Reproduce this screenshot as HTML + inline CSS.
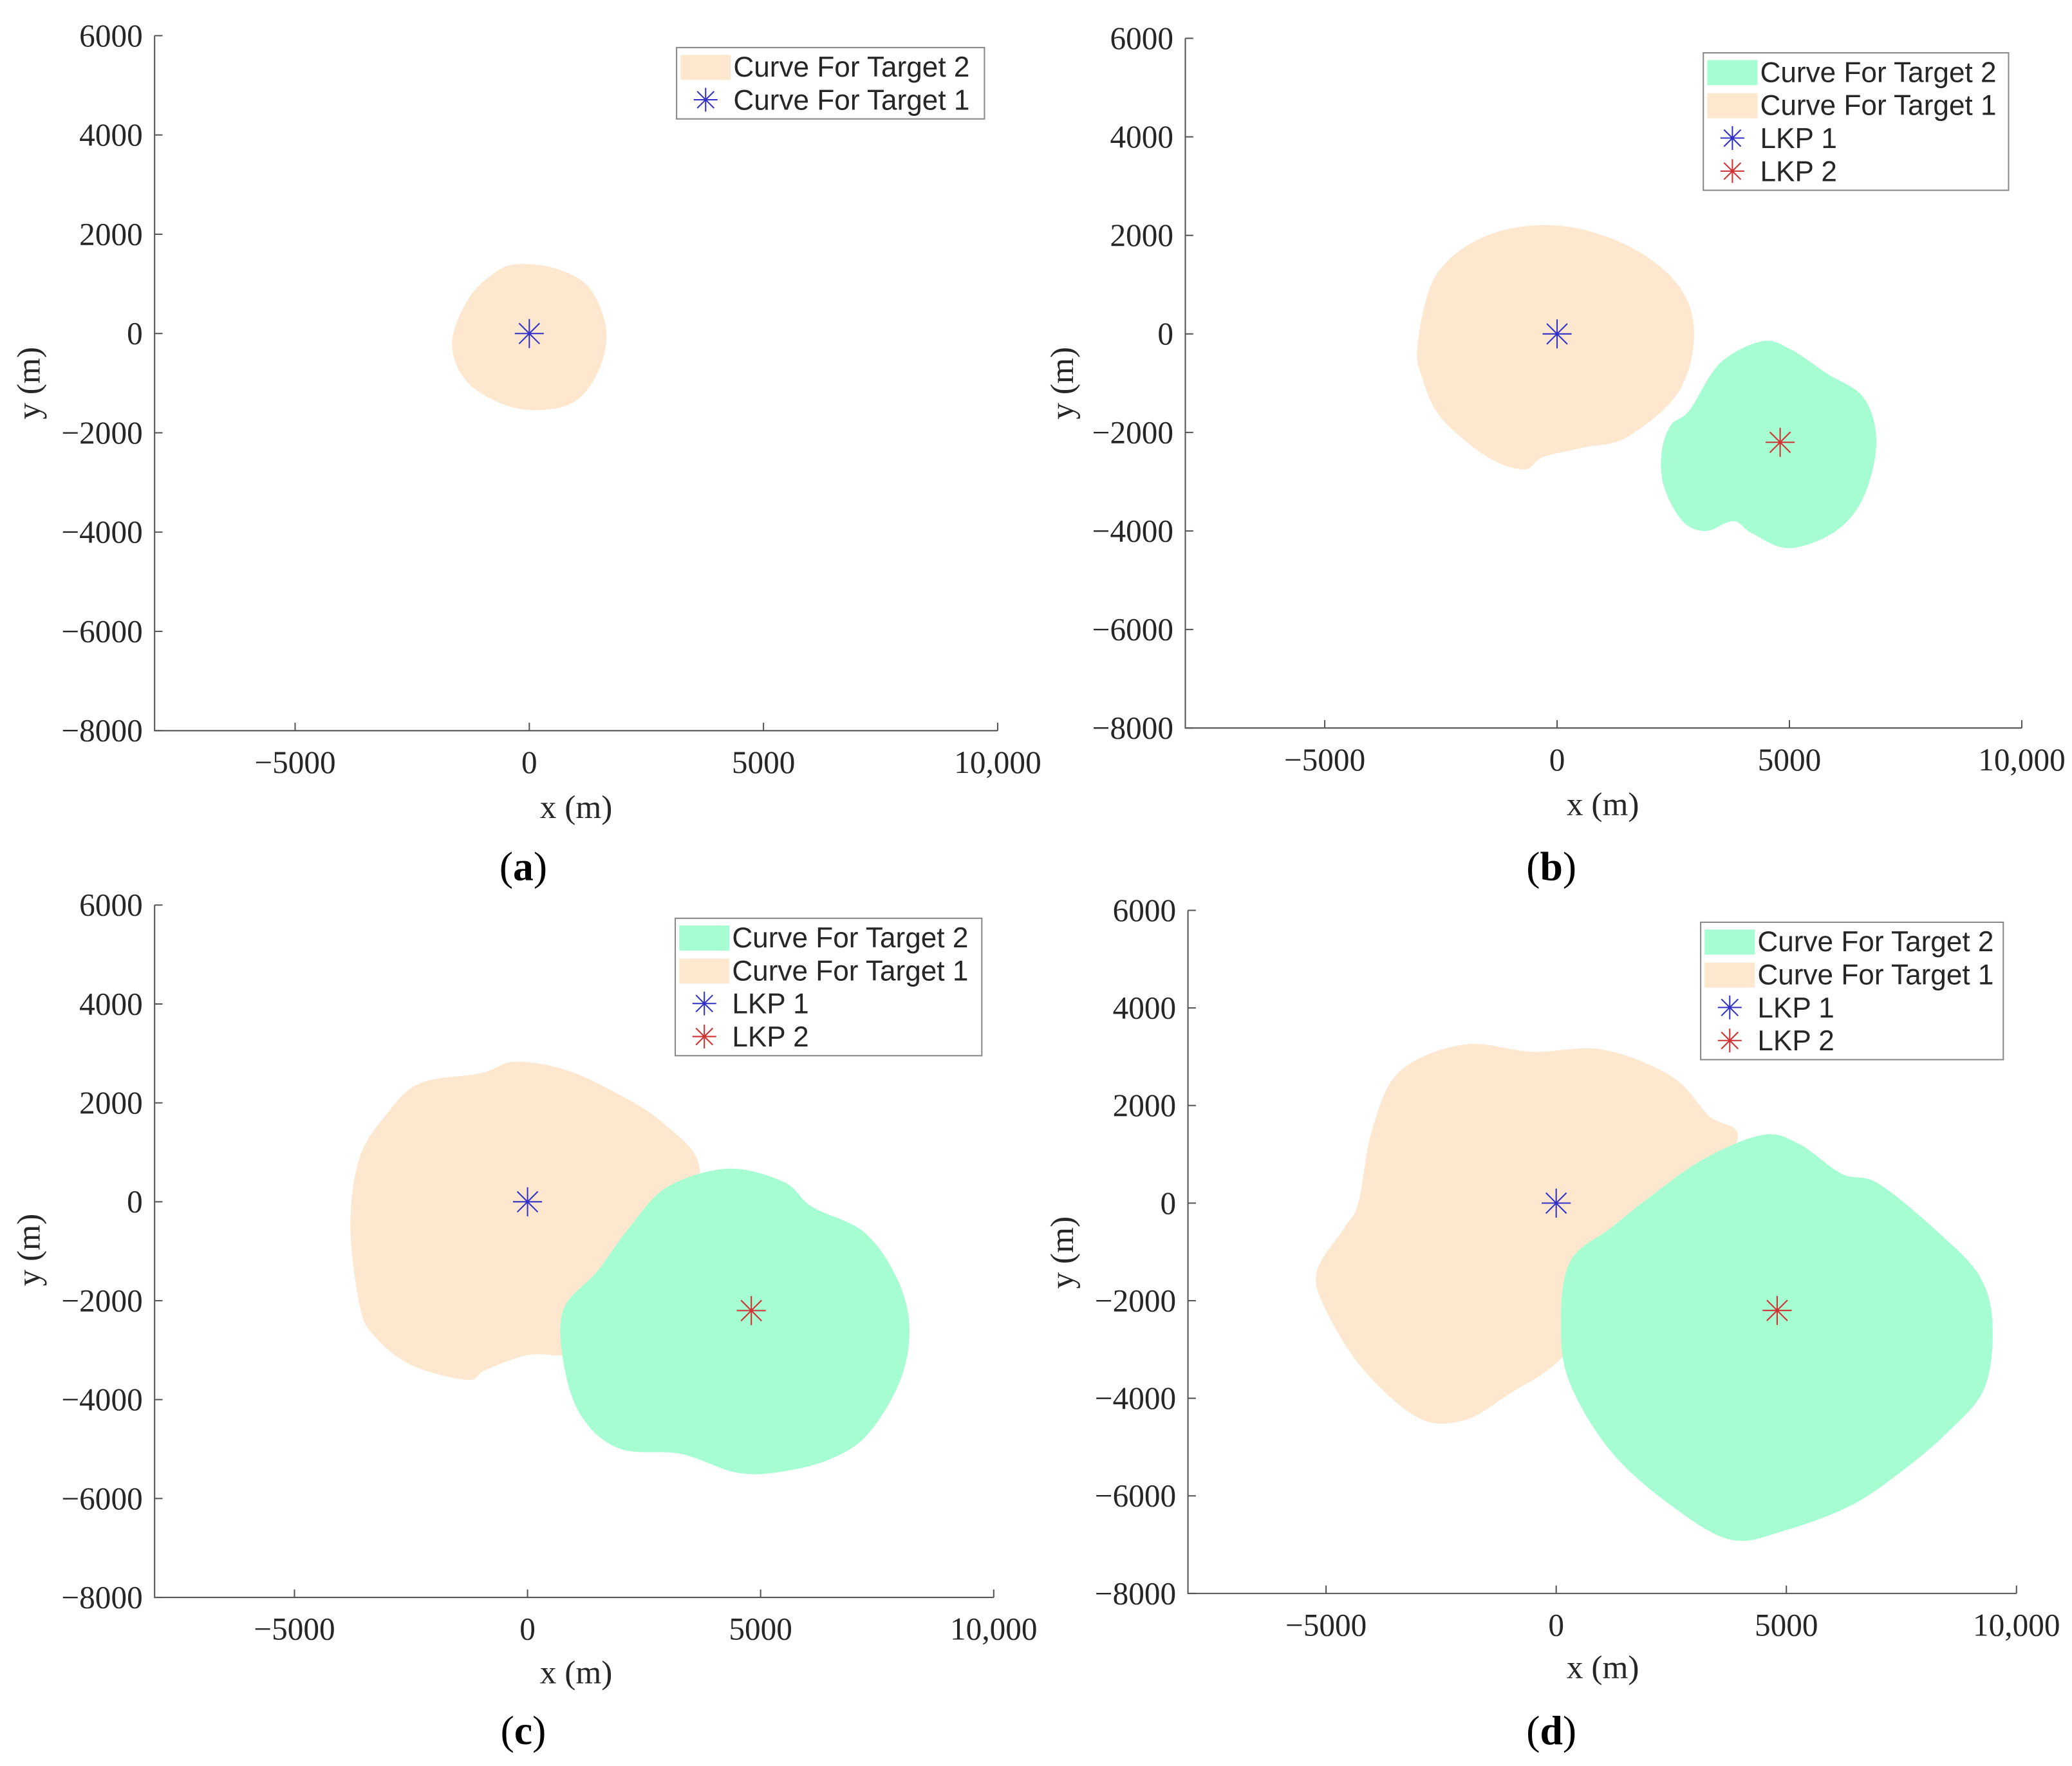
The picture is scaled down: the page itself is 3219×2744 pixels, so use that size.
<!DOCTYPE html>
<html><head><meta charset="utf-8"><style>
html,body{margin:0;padding:0;background:#fff;}
svg{display:block;}
.tick{font-family:"Liberation Serif",serif;font-size:24px;fill:#262626;}
.lab{font-family:"Liberation Serif",serif;font-size:25px;fill:#262626;}
.leg{font-family:"Liberation Sans",sans-serif;font-size:21.5px;fill:#262626;}
.cap{font-family:"Liberation Serif",serif;font-size:31px;fill:#000;}
</style></head><body>
<svg id="fig" width="3219" height="2744" viewBox="0 0 1568 1336.6" preserveAspectRatio="none" xmlns="http://www.w3.org/2000/svg"></svg>
<script>
// ---- data (meters) ----
const xTicks = [-5000, 0, 5000, 10000];
const xTickLabels = ["\u22125000", "0", "5000", "10,000"];
const yTicks = [6000, 4000, 2000, 0, -2000, -4000, -6000, -8000];
const yTickLabels = ["6000", "4000", "2000", "0", "\u22122000", "\u22124000", "\u22126000", "\u22128000"];
const lkp1 = [0, 0];
const lkp2 = [4800, -2200];
const peachA = [[-200,1400],[600,1300],[1300,900],[1650,0],[1400,-900],[800,-1450],[-300,-1500],[-1300,-1000],[-1650,-200],[-1300,700],[-700,1250]];
const peachB = [[-3000,-200],[-2600,1200],[-1500,2000],[0,2200],[1500,1800],[2600,1000],[2950,0],[2600,-1200],[1500,-2100],[600,-2300],[-300,-2500],[-700,-2750],[-1500,-2500],[-2500,-1700],[-2900,-900]];
const greenB = [[2250,-2400],[2450,-1850],[2850,-1550],[3500,-600],[4400,-150],[5000,-300],[5800,-800],[6600,-1300],[6870,-2200],[6600,-3300],[6000,-4000],[5000,-4350],[4200,-4050],[3800,-3800],[3200,-4000],[2700,-3800],[2300,-3100]];
const peachC = [[-3600,-2100],[-3800,-500],[-3600,900],[-3000,1800],[-2300,2400],[-1000,2600],[-300,2830],[700,2700],[1700,2300],[2900,1600],[3700,600],[3000,-1200],[1500,-2900],[800,-3100],[0,-3100],[-900,-3400],[-1300,-3600],[-2500,-3300],[-3300,-2700]];
const greenC = [[760,-2200],[1500,-1400],[2200,-500],[3000,300],[4300,670],[5500,400],[6100,-100],[7200,-600],[7900,-1500],[8190,-2500],[8000,-3600],[7300,-4700],[6500,-5200],[5500,-5450],[4500,-5480],[3300,-5100],[2000,-5000],[1200,-4400],[800,-3400]];
const peachD = [[-5200,-1400],[-4600,-500],[-4300,0],[-4000,1500],[-3400,2700],[-2000,3250],[-500,3100],[1000,3150],[2500,2600],[3300,1800],[3900,1200],[2000,-1000],[200,-3100],[-1000,-3900],[-2000,-4450],[-3000,-4400],[-4200,-3400],[-5000,-2200]];
const greenD = [[100,-2500],[300,-1200],[1200,-500],[2000,100],[3200,900],[4500,1400],[5300,1200],[6200,600],[7000,400],[8300,-600],[9200,-1500],[9480,-2500],[9300,-3800],[8500,-4700],[7500,-5500],[6400,-6200],[5000,-6700],[3800,-6900],[2500,-6200],[1200,-5100],[300,-3700]];

const PEACH = "#fde8cf", GREEN = "#a6fdd2";
const panels = [
 {id:"a", L:117, R:755, T:27, B:553, shapes:[[peachA,PEACH]], lkp2:false, leg:[512,36,233,["Curve For Target 2","Curve For Target 1"]], xl:[436,611], yl:[22,290], cap:[396,655]},
 {id:"b", L:897, R:1530, T:29, B:551, shapes:[[peachB,PEACH],[greenB,GREEN]], lkp2:true, leg:[1289,40,231,["Curve For Target 2","Curve For Target 1","LKP 1","LKP 2"]], xl:[1213,609], yl:[804,290], cap:[1174,655]},
 {id:"c", L:117, R:752, T:685, B:1209, shapes:[[peachC,PEACH],[greenC,GREEN]], lkp2:true, leg:[511,695,232,["Curve For Target 2","Curve For Target 1","LKP 1","LKP 2"]], xl:[436,1266], yl:[22,946], cap:[396,1309]},
 {id:"d", L:899, R:1526, T:689, B:1206, shapes:[[peachD,PEACH],[greenD,GREEN]], lkp2:true, leg:[1287,698,229,["Curve For Target 2","Curve For Target 1","LKP 1","LKP 2"]], xl:[1213,1262], yl:[804,948], cap:[1174,1309]}
];
const NS="http://www.w3.org/2000/svg";
const svg=document.getElementById('fig');
function mk(tag,attrs,parent){const e=document.createElementNS(NS,tag);for(const k in attrs)e.setAttribute(k,attrs[k]);(parent||svg).appendChild(e);return e;}
function smooth(pts){let d="";const n=pts.length;for(let i=0;i<n;i++){const p0=pts[(i-1+n)%n],p1=pts[i],p2=pts[(i+1)%n],p3=pts[(i+2)%n];if(i===0)d+="M"+p1[0]+","+p1[1];const c1=[p1[0]+(p2[0]-p0[0])/6,p1[1]+(p2[1]-p0[1])/6],c2=[p2[0]-(p3[0]-p1[0])/6,p2[1]-(p3[1]-p1[1])/6];d+="C"+c1+" "+c2+" "+p2;}return d+"Z";}
function star(g,cx,cy,r,col){for(let k=0;k<4;k++){const a=k*Math.PI/4;const l=mk('line',{x1:cx-r*Math.cos(a),y1:cy-r*Math.sin(a),x2:cx+r*Math.cos(a),y2:cy+r*Math.sin(a),stroke:col,'stroke-width':1},g);}}
panels.forEach(p=>{
 const g=mk('g',{});
 
 
 const sx=v=>p.L+(v+8000)/18000*(p.R-p.L);
 const sy=v=>p.B-(v+8000)/14000*(p.B-p.T);
 p.shapes.forEach(([pts,col],i)=>{
  const path=mk('path',{d:smooth(pts.map(q=>[sx(q[0]),sy(q[1])])),fill:col},g);
  
  
 });
 const s1=mk('g',{},g);
 
 
 star(s1,sx(lkp1[0]),sy(lkp1[1]),11,'#3030c8');
 if(p.lkp2){const s2=mk('g',{},g);
  
  
  star(s2,sx(lkp2[0]),sy(lkp2[1]),11,'#d03030');}
 const ax=mk('path',{d:`M${p.L},${p.T}V${p.B}H${p.R}`,stroke:'#555',fill:'none','stroke-width':1},g);
 
 
 xTicks.forEach((v,i)=>{const x=sx(v);mk('line',{x1:x,y1:p.B,x2:x,y2:p.B-6,stroke:'#555'},g);
  const t=mk('text',{x:x,y:p.B+32,'text-anchor':'middle',class:'tick'},g);t.textContent=xTickLabels[i];
  });
 yTicks.forEach((v,i)=>{const y=sy(v);mk('line',{x1:p.L,y1:y,x2:p.L+6,y2:y,stroke:'#555'},g);
  const t=mk('text',{x:p.L-9,y:y+8,'text-anchor':'end',class:'tick'},g);t.textContent=yTickLabels[i];
  });
 const xl=mk('text',{x:p.xl[0],y:p.xl[1]+8,'text-anchor':'middle',class:'lab'},g);xl.textContent='x (m)';
 
 const yl=mk('text',{x:0,y:0,'text-anchor':'middle',class:'lab',transform:`translate(${p.yl[0]+8},${p.yl[1]}) rotate(-90)`},g);yl.textContent='y (m)';
 
 const cap=mk('text',{x:p.cap[0],y:p.cap[1]+11,'text-anchor':'middle',class:'cap'},g);
 cap.innerHTML='(<tspan font-weight="bold">'+p.id+'</tspan>)';
 
 // legend
 const [lx,ly,lw,items]=p.leg;const rh=25;
 const lg=mk('g',{},g);
 
 
 mk('rect',{x:lx,y:ly,width:lw,height:items.length*rh+4,fill:'#fff',stroke:'#888','stroke-width':1},lg);
 items.forEach((txt,i)=>{const cy=ly+2+rh*i+rh/2;
  const sw=items.length===2?[PEACH,'star1']:[GREEN,PEACH,'star1','star2'];
  const k=sw[i];
  if(k==='star1')star(lg,lx+22,cy,9,'#3030c8');
  else if(k==='star2')star(lg,lx+22,cy,9,'#d03030');
  else mk('rect',{x:lx+3,y:cy-9,width:38,height:19,fill:k},lg);
  const t=mk('text',{x:lx+43,y:cy+7.5,class:'leg'},lg);t.textContent=txt;
  
 });
});
</script>
</body></html>
